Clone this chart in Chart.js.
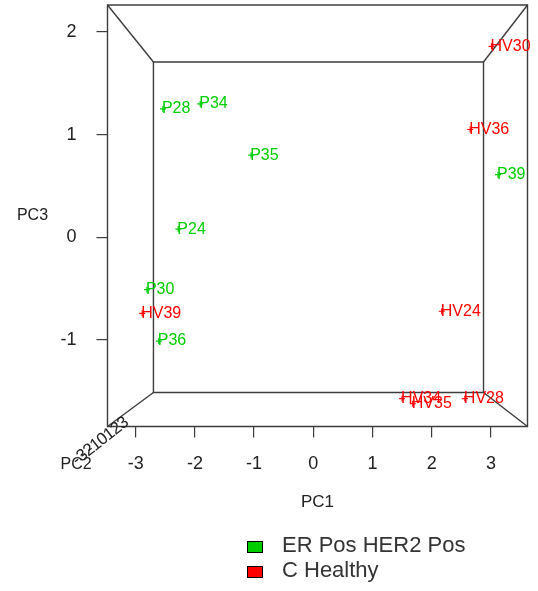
<!DOCTYPE html>
<html><head><meta charset="utf-8">
<script src="https://cdn.jsdelivr.net/npm/chart.js@4.4.1/dist/chart.umd.min.js"></script>
<style>html,body{margin:0;padding:0;background:#fff;}#wrap{position:relative;width:538px;height:591px;}</style>
</head><body><div id="wrap"><canvas id="c"></canvas></div>
<script>
const pc1Ticks=[-3,-2,-1,0,1,2,3];
const pc2Ticks=[-3,-2,-1,0,1,2,3];
const pc3Ticks=[-1,0,1,2];
const seriesNames=['ER Pos HER2 Pos','C Healthy'];
const erLabels=['P28','P34','P35','P24','P30','P36','P39'];
const erPC1=[-2.54,-1.91,-1.05,-2.28,-2.81,-2.61,3.12];
const erPC3=[1.25,1.30,0.80,0.08,-0.51,-1.01,0.61];
const chLabels=['HV30','HV36','HV39','HV24','HV34','HV35','HV28'];
const chPC1=[3.01,2.65,-2.89,2.17,1.50,1.68,2.56];
const chPC3=[1.86,1.05,-0.74,-0.72,-1.57,-1.62,-1.57];
const pc1Front=[-3.476,3.618], pc3Front=[-1.842,2.262];
const pc1Back=[-2.70,2.875], pc3Back=[-1.511,1.707];

const FONT="'Liberation Sans', Arial, Helvetica, sans-serif";
Chart.defaults.font.family=FONT;
const colors=['#00cd00','#ff0000'];
const LINE='#3c3c3c';

const box3d={id:'box3d',beforeDatasetsDraw(chart){
  const {x,y}=chart.scales,ctx=chart.ctx;
  const X=v=>x.getPixelForValue(v),Y=v=>y.getPixelForValue(v);
  const f=[[X(pc1Front[0]),Y(pc3Front[1])],[X(pc1Front[1]),Y(pc3Front[1])],[X(pc1Front[1]),Y(pc3Front[0])],[X(pc1Front[0]),Y(pc3Front[0])]];
  const b=[[X(pc1Back[0]),Y(pc3Back[1])],[X(pc1Back[1]),Y(pc3Back[1])],[X(pc1Back[1]),Y(pc3Back[0])],[X(pc1Back[0]),Y(pc3Back[0])]];
  ctx.save();ctx.strokeStyle=LINE;ctx.lineWidth=1.4;
  [f,b].forEach(q=>{ctx.beginPath();ctx.moveTo(q[0][0],q[0][1]);for(let i=1;i<4;i++)ctx.lineTo(q[i][0],q[i][1]);ctx.closePath();ctx.stroke();});
  for(let i=0;i<4;i++){ctx.beginPath();ctx.moveTo(f[i][0],f[i][1]);ctx.lineTo(b[i][0],b[i][1]);ctx.stroke();}
  ctx.restore();
}};

const pointLabels={id:'pointLabels',afterDatasetsDraw(chart){
  const ctx=chart.ctx;ctx.save();
  ctx.font='16px '+FONT;ctx.textBaseline='middle';ctx.textAlign='left';
  chart.data.datasets.forEach((ds,di)=>{
    const meta=chart.getDatasetMeta(di);
    ctx.fillStyle=ds.borderColor;
    meta.data.forEach((pt,i)=>{ctx.fillText(ds.names[i],pt.x-1,pt.y);});
  });
  ctx.restore();
}};

const extras={id:'extras',afterDraw(chart){
  const ctx=chart.ctx,ca=chart.chartArea;ctx.save();
  ctx.fillStyle='#222';
  ctx.font='16px '+FONT;ctx.textAlign='center';ctx.textBaseline='middle';
  ctx.fillText('PC3',ca.left-75,(ca.top+ca.bottom)/2);
  ctx.textAlign='left';
  ctx.fillText('PC2',ca.left-47,ca.bottom+38);
  const ang=Math.atan2(-35,46);
  ctx.font='17px '+FONT;
  pc2Ticks.forEach((v,i)=>{
    const px=ca.left-25+i*6.8, py=ca.bottom+29-i*5.4;
    ctx.save();ctx.translate(px,py);ctx.rotate(ang);
    ctx.textAlign='right';ctx.textBaseline='middle';
    ctx.fillText(String(v),4.5,0);ctx.restore();
  });
  ctx.font='22px '+FONT;ctx.textAlign='left';ctx.textBaseline='middle';
  chart.data.datasets.forEach((ds,i)=>{
    const cy=547+i*25;
    ctx.fillStyle=ds.borderColor;ctx.fillRect(247,cy-6,16,12);
    ctx.strokeStyle='#000';ctx.lineWidth=1;ctx.strokeRect(247.5,cy-5.5,15,11);
    ctx.fillStyle='#333';ctx.fillText(ds.label,282,cy-1);
  });
  ctx.restore();
}};

const noPad=s=>{s.paddingTop=0;s.paddingBottom=0;s.paddingLeft=0;s.paddingRight=0;};
const mk=(xs,ys)=>xs.map((v,i)=>({x:v,y:ys[i]}));
new Chart(document.getElementById('c'),{
  type:'scatter',
  data:{datasets:[
    {label:seriesNames[0],names:erLabels,data:mk(erPC1,erPC3),borderColor:colors[0],backgroundColor:colors[0],pointStyle:'cross',pointRadius:3,borderWidth:1.2},
    {label:seriesNames[1],names:chLabels,data:mk(chPC1,chPC3),borderColor:colors[1],backgroundColor:colors[1],pointStyle:'cross',pointRadius:3,borderWidth:1.2}
  ]},
  options:{
    responsive:true,maintainAspectRatio:false,animation:false,
    layout:{autoPadding:false,padding:{left:0,top:5,right:10.5,bottom:74.5}},
    plugins:{legend:{display:false},tooltip:{enabled:false}},
    scales:{
      x:{type:'linear',min:pc1Front[0],max:pc1Front[1],
        afterBuildTicks:s=>{s.ticks=pc1Ticks.map(v=>({value:v}));},
        afterFit:s=>{s.height=90;noPad(s);},
        grid:{drawOnChartArea:false,drawTicks:true,tickLength:11,color:LINE,lineWidth:1.2},
        border:{display:false},
        ticks:{autoSkip:false,maxRotation:0,padding:16,color:'#222',font:{size:18}},
        title:{display:true,text:'PC1',color:'#222',font:{size:17},padding:{top:4,bottom:4}}},
      y:{type:'linear',min:pc3Front[0],max:pc3Front[1],
        afterBuildTicks:s=>{s.ticks=pc3Ticks.map(v=>({value:v}));},
        afterFit:s=>{s.width=107.5;noPad(s);},
        grid:{drawOnChartArea:false,drawTicks:true,tickLength:11,color:LINE,lineWidth:1.2},
        border:{display:false},
        ticks:{autoSkip:false,padding:20,color:'#222',font:{size:18}}}
    }
  },
  plugins:[box3d,pointLabels,extras]
});
</script></body></html>
